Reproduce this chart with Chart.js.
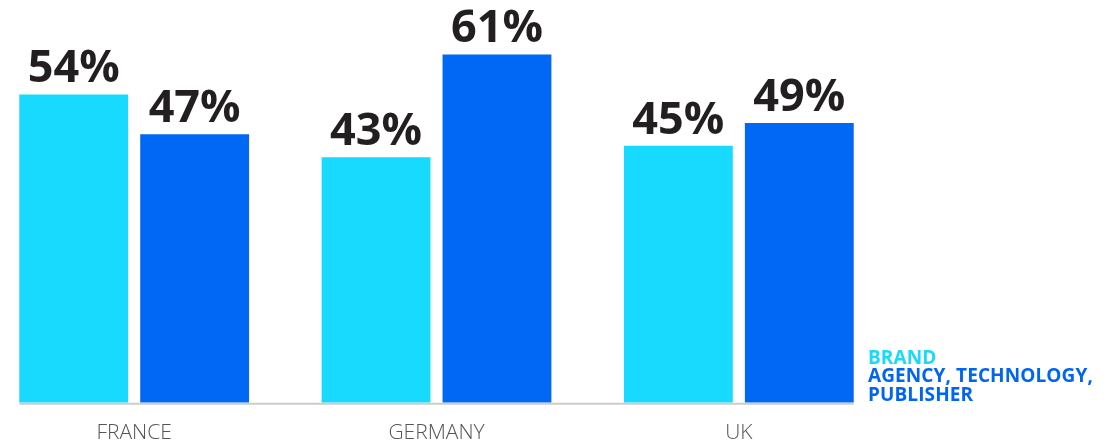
<!DOCTYPE html>
<html>
<head>
<meta charset="utf-8">
<script src="https://cdn.jsdelivr.net/npm/chart.js"></script>
<style>
  html, body { margin: 0; padding: 0; background: #fff; overflow: hidden; }
  body { width: 1119px; height: 443px; position: relative; }
  #wrap { position: absolute; left: -17px; top: 0; width: 1136px; height: 464px; }
  #legend {
    position: absolute; left: 868px; top: 348px;
    font-family: "Open Sans", sans-serif; font-weight: 700;
    font-size: 19px; line-height: 18.3px; letter-spacing: 0.1px;
  }
  #legend .brand { color: #19d9ff; }
  #legend .agency { color: #0066f2; }
</style>
</head>
<body>
<div id="wrap"><canvas id="chart"></canvas></div>
<div id="legend">
  <div class="brand">BRAND</div>
  <div class="agency">AGENCY, TECHNOLOGY,<br>PUBLISHER</div>
</div>
<script>
const countries = ['FRANCE', 'GERMANY', 'UK']
const brandValues = [54, 43, 45]
const agencyValues = [47, 61, 49]
const seriesNames = ['BRAND', 'AGENCY, TECHNOLOGY, PUBLISHER']

const LIGHT = '#18daff'
const DARK = '#0068f5'

// percentage labels above each bar, plus the base line under the bars
const barLabels = {
  id: 'barLabels',
  afterDatasetsDraw(chart) {
    const ctx = chart.ctx
    ctx.save()
    ctx.font = 'bold 45px "Open Sans", sans-serif'
    ctx.fillStyle = '#231f20'
    ctx.textAlign = 'center'
    ctx.textBaseline = 'alphabetic'
    chart.data.datasets.forEach((ds, i) => {
      chart.getDatasetMeta(i).data.forEach((bar, j) => {
        ctx.fillText(ds.data[j] + '%', bar.x, bar.y - 12)
      })
    })

    const first = chart.getDatasetMeta(0).data[0]
    const lastMeta = chart.getDatasetMeta(chart.data.datasets.length - 1)
    const last = lastMeta.data[lastMeta.data.length - 1]
    const y = chart.scales.y.getPixelForValue(0)
    ctx.strokeStyle = '#cccccc'
    ctx.lineWidth = 2
    ctx.beginPath()
    ctx.moveTo(first.x - first.width / 2, y + 1)
    ctx.lineTo(last.x + last.width / 2, y + 1)
    ctx.stroke()
    ctx.restore()
  }
}

new Chart(document.getElementById('chart'), {
  type: 'bar',
  data: {
    labels: countries,
    datasets: [
      { label: seriesNames[0], data: brandValues, backgroundColor: LIGHT },
      { label: seriesNames[1], data: agencyValues, backgroundColor: DARK }
    ]
  },
  options: {
    responsive: true,
    maintainAspectRatio: false,
    animation: false,
    layout: { padding: { top: 3, right: 229, left: 0, bottom: 0 } },
    scales: {
      x: {
        grid: { display: false, drawTicks: false },
        border: { display: false },
        ticks: {
          padding: 18,
          color: '#555555',
          font: { family: '"Open Sans", sans-serif', size: 21, weight: 300 }
        }
      },
      y: { display: false, min: 0, max: 70 }
    },
    plugins: {
      legend: { display: false },
      tooltip: { enabled: false }
    }
  },
  plugins: [barLabels]
})
</script>
</body>
</html>
